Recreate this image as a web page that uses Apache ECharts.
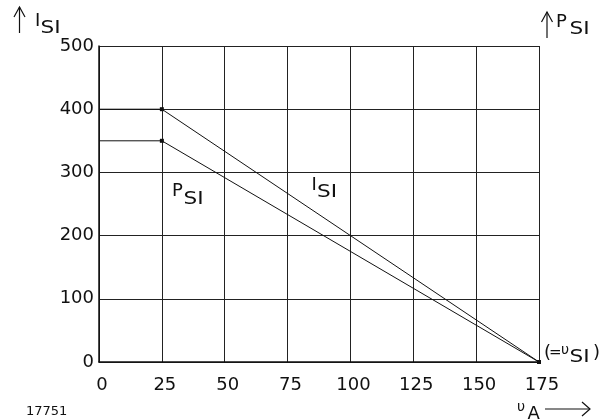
<!DOCTYPE html>
<html><head><meta charset="utf-8">
<script src="https://cdn.jsdelivr.net/npm/echarts@6/dist/echarts.min.js"></script>
<style>html,body{margin:0;padding:0;background:#fff}#c{width:616px;height:420px}</style>
</head><body><div id="c"></div>
<script>
const xValues = [0, 25, 175];
const iSI = [400, 400, 0];
const pSI = [350, 350, 0];
const xTicks = [0, 25, 50, 75, 100, 125, 150, 175];
const yTicks = [0, 100, 200, 300, 400, 500];

const FONT = '"DejaVu Sans", "Liberation Sans", Arial, sans-serif';
const INK = '#111';
function txt(x, y, s, size, align, sx) {
  return { type: 'text', x: x, y: y, silent: true, scaleX: sx || 1,
    style: { text: s, font: size + 'px ' + FONT, fill: INK, align: align || 'left', verticalAlign: 'middle' } };
}
function line(x1, y1, x2, y2) {
  return { type: 'line', silent: true, shape: { x1, y1, x2, y2 }, style: { stroke: INK, lineWidth: 1.2 } };
}
function poly(pts) {
  return { type: 'polyline', silent: true, shape: { points: pts }, style: { stroke: INK, lineWidth: 1.2, fill: null } };
}

const chart = echarts.init(document.getElementById('c'), null, { renderer: 'canvas' });
const sym = (v, p) => (p.dataIndex === 0 ? 'none' : 'rect');
chart.setOption({
  animation: false,
  backgroundColor: '#fff',
  grid: { left: 99, right: 77, top: 46, bottom: 58 },
  xAxis: {
    type: 'value', min: 0, max: 175, interval: 25,
    axisLine: { show: true, lineStyle: { color: INK, width: 1.5 } },
    axisTick: { show: false },
    splitLine: { show: true, lineStyle: { color: '#222', width: 1 } },
    axisLabel: { color: INK, fontSize: 18, fontFamily: FONT, margin: 14, padding: [0, 0, 0, 6],
      formatter: v => (xTicks.indexOf(v) >= 0 ? String(v) : '') }
  },
  yAxis: {
    type: 'value', min: 0, max: 500, interval: 100,
    axisLine: { show: true, lineStyle: { color: INK, width: 1.5 } },
    axisTick: { show: false },
    splitLine: { show: true, lineStyle: { color: '#222', width: 1 } },
    axisLabel: { color: INK, fontSize: 18, fontFamily: FONT, margin: 5,
      formatter: v => (yTicks.indexOf(v) >= 0 ? String(v) : '') }
  },
  series: [
    { name: 'ISI', type: 'line', data: xValues.map((x, i) => [x, iSI[i]]),
      symbol: sym, symbolSize: 4, itemStyle: { color: INK },
      lineStyle: { color: INK, width: 1 } },
    { name: 'PSI', type: 'line', data: xValues.map((x, i) => [x, pSI[i]]),
      symbol: sym, symbolSize: 4, itemStyle: { color: INK },
      lineStyle: { color: INK, width: 1 } }
  ],
  graphic: [
    // top-left axis title with arrow
    line(19.5, 33, 19.5, 7), poly([[14, 17], [19.5, 7], [25, 17]]),
    txt(35, 21, 'I', 18), txt(40.5, 28, 'SI', 18, 'left', 1.2),
    // top-right axis title with arrow
    line(547, 38, 547, 12), poly([[541.5, 22], [547, 12], [552.5, 22]]),
    txt(556, 22.5, 'P', 18), txt(569.5, 29.5, 'SI', 18, 'left', 1.2),
    // curve labels
    txt(172, 191.5, 'P', 18), txt(183.5, 199, 'SI', 18, 'left', 1.2),
    txt(311.5, 185.5, 'I', 18), txt(317, 192, 'SI', 18, 'left', 1.2),
    // (=υSI)
    txt(544, 353, '(', 18), txt(549, 353, '=', 15), txt(561, 350, 'υ', 14),
    txt(569.5, 357, 'SI', 18, 'left', 1.2), txt(593, 353, ')', 18),
    // υA arrow
    txt(517, 407, 'υ', 14), txt(527.5, 414, 'A', 18),
    line(545, 409, 590, 409), poly([[582, 402], [590, 409], [582, 416]]),
    // figure number
    txt(26, 411.5, '17751', 13)
  ]
});
</script></body></html>
